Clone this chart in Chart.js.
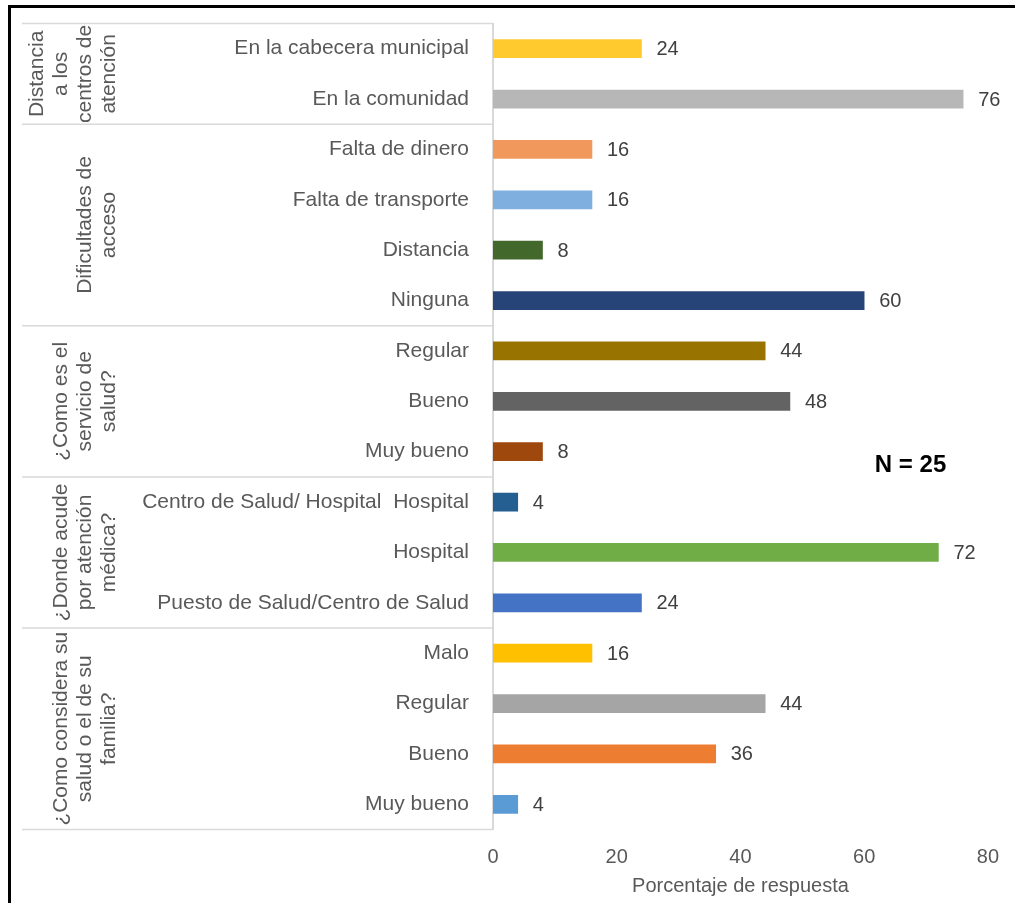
<!DOCTYPE html>
<html>
<head>
<meta charset="utf-8">
<script src="https://cdn.jsdelivr.net/npm/chart.js@4/dist/chart.umd.min.js"></script>
<style>
  html, body { margin: 0; padding: 0; background: #fff; }
  #wrap { position: relative; width: 1015px; height: 903px; }
  #frame { position: absolute; left: 8px; top: 5px; right: 0; bottom: 0;
           border-top: 3px solid #000; border-left: 3px solid #000; pointer-events: none; }
</style>
</head>
<body>
<div id="wrap">
  <canvas id="chart" width="1015" height="903"></canvas>
  <div id="frame"></div>
</div>
<script>
const categories = [
    'En la cabecera municipal', 'En la comunidad',
    'Falta de dinero', 'Falta de transporte', 'Distancia', 'Ninguna',
    'Regular', 'Bueno', 'Muy bueno',
    'Centro de Salud/ Hospital  Hospital', 'Hospital', 'Puesto de Salud/Centro de Salud',
    'Malo', 'Regular', 'Bueno', 'Muy bueno'
];
const values = [24, 76, 16, 16, 8, 60, 44, 48, 8, 4, 72, 24, 16, 44, 36, 4];
const barColors = [
    '#FFCA2E', '#B7B7B7',
    '#F1995D', '#7FAFDF', '#43682B', '#264478',
    '#997300', '#636363', '#9E480E',
    '#255E91', '#70AD47', '#4472C4',
    '#FFC000', '#A5A5A5', '#ED7D31', '#5B9BD5'
];
const groupLabels = [
    ['Distancia', 'a los', 'centros de', 'atención'],
    ['Dificultades de', 'acceso'],
    ['¿Como es el', 'servicio de', 'salud?'],
    ['¿Donde acude', 'por atención', 'médica?'],
    ['¿Como considera su', 'salud o el de su', 'familia?']
];
const groupSizes = [2, 4, 3, 3, 4];
const xTicks = [0, 20, 40, 60, 80];
const axisTitle = 'Porcentaje de respuesta';
const noteText = 'N = 25';

const FONT = "'Liberation Sans', Arial, sans-serif";

// separators, rotated group labels, value labels, N note
const extrasPlugin = {
    id: 'extras',
    afterDraw(chart) {
        const ctx = chart.ctx;
        const yS = chart.scales.y;
        const xS = chart.scales.x;
        const area = chart.chartArea;
        const half = (yS.getPixelForValue(1) - yS.getPixelForValue(0)) / 2;

        ctx.save();
        ctx.strokeStyle = '#D9D9D9';
        ctx.lineWidth = 1.5;
        let start = 0;
        const edges = [yS.getPixelForValue(0) - half];
        groupSizes.forEach(n => {
            start += n;
            edges.push(yS.getPixelForValue(start - 1) + half);
        });
        edges.forEach(py => {
            ctx.beginPath();
            ctx.moveTo(22, py);
            ctx.lineTo(area.left, py);
            ctx.stroke();
        });

        // group labels, rotated
        ctx.fillStyle = '#595959';
        ctx.font = '21px ' + FONT;
        ctx.textAlign = 'center';
        ctx.textBaseline = 'middle';
        groupLabels.forEach((lines, g) => {
            const cy = (edges[g] + edges[g + 1]) / 2;
            lines.forEach((txt, k) => {
                const px = 109 - (lines.length - 1 - k) * 24;
                ctx.save();
                ctx.translate(px, cy);
                ctx.rotate(-Math.PI / 2);
                ctx.fillText(txt, 0, 0);
                ctx.restore();
            });
        });

        // value labels
        ctx.fillStyle = '#404040';
        ctx.font = '20px ' + FONT;
        ctx.textAlign = 'left';
        chart.getDatasetMeta(0).data.forEach((bar, i) => {
            ctx.fillText(String(values[i]), bar.x + 15, bar.y + 1);
        });

        // N note
        ctx.fillStyle = '#000';
        ctx.font = 'bold 24px ' + FONT;
        ctx.textAlign = 'center';
        ctx.fillText(noteText, xS.getPixelForValue(67.5), yS.getPixelForValue(8.28));
        ctx.restore();
    }
};

const ctx = document.getElementById('chart').getContext('2d');
new Chart(ctx, {
    type: 'bar',
    data: {
        labels: categories,
        datasets: [{
            data: values,
            backgroundColor: barColors,
            barThickness: 18,
        }]
    },
    options: {
        indexAxis: 'y',
        responsive: false,
        animation: false,
        layout: { padding: { top: 23.5, right: 26, bottom: 0, left: 0 } },
        plugins: {
            legend: { display: false },
            tooltip: { enabled: false }
        },
        scales: {
            x: {
                min: 0,
                max: 80,
                afterBuildTicks: scale => { scale.ticks = xTicks.map(v => ({ value: v })); },
                afterFit: scale => { scale.height = 73.5; },
                grid: { display: false, drawTicks: false },
                border: { display: false },
                ticks: { color: '#595959', font: { family: FONT, size: 20 }, padding: 16 },
                title: {
                    display: true,
                    text: axisTitle,
                    color: '#595959',
                    font: { family: FONT, size: 20 },
                    padding: { top: 0, bottom: 5 }
                }
            },
            y: {
                afterFit: scale => {
                    scale.width = 493;
                    scale.paddingTop = 0;
                    scale.paddingBottom = 0;
                },
                grid: { display: false, drawTicks: false },
                border: { display: true, color: '#D9D9D9', width: 2 },
                ticks: { color: '#595959', font: { family: FONT, size: 21 }, padding: 24, autoSkip: false }
            }
        }
    },
    plugins: [extrasPlugin]
});
</script>
</body>
</html>
